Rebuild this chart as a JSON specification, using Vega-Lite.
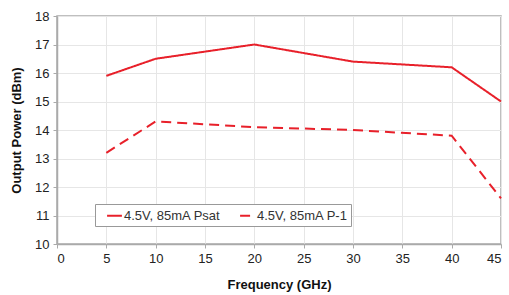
{
  "$schema": "https://vega.github.io/schema/vega-lite/v6.json",
  "autosize": {"type": "none"},
  "width": 444,
  "height": 228,
  "padding": {"left": 57, "top": 16, "right": 8, "bottom": 51},
  "background": "white",
  "data": {"values": [
    {"freq": 5, "power": 15.9, "series": "4.5V, 85mA Psat"},
    {"freq": 10, "power": 16.5, "series": "4.5V, 85mA Psat"},
    {"freq": 20, "power": 17.0, "series": "4.5V, 85mA Psat"},
    {"freq": 30, "power": 16.4, "series": "4.5V, 85mA Psat"},
    {"freq": 40, "power": 16.2, "series": "4.5V, 85mA Psat"},
    {"freq": 45, "power": 15.0, "series": "4.5V, 85mA Psat"},
    {"freq": 5, "power": 13.2, "series": "4.5V, 85mA P-1"},
    {"freq": 10, "power": 14.3, "series": "4.5V, 85mA P-1"},
    {"freq": 20, "power": 14.1, "series": "4.5V, 85mA P-1"},
    {"freq": 30, "power": 14.0, "series": "4.5V, 85mA P-1"},
    {"freq": 40, "power": 13.8, "series": "4.5V, 85mA P-1"},
    {"freq": 45, "power": 11.6, "series": "4.5V, 85mA P-1"}
  ]},
  "mark": {"type": "line", "color": "#e8202a", "strokeWidth": 2},
  "encoding": {
    "x": {"field": "freq", "type": "quantitative", "scale": {"domain": [0, 45], "nice": false},
      "axis": {"title": "Frequency (GHz)", "values": [0,5,10,15,20,25,30,35,40,45], "titlePadding": 13}},
    "y": {"field": "power", "type": "quantitative", "scale": {"domain": [10, 18], "nice": false, "zero": false},
      "axis": {"title": "Output Power (dBm)", "values": [10,11,12,13,14,15,16,17,18], "titlePadding": 11}},
    "strokeDash": {"field": "series", "type": "nominal",
      "scale": {"domain": ["4.5V, 85mA Psat", "4.5V, 85mA P-1"], "range": [[1, 0], [10, 6]]},
      "legend": {"title": null, "orient": "none", "legendX": 38, "legendY": 188, "direction": "horizontal",
        "symbolType": "stroke", "symbolStrokeColor": "#e8202a", "symbolStrokeWidth": 2, "symbolSize": 220,
        "labelFontSize": 13, "labelColor": "#333", "labelFont": "Liberation Sans", "labelOffset": 1,
        "fillColor": "white", "strokeColor": "#999", "padding": 3, "columnPadding": 10, "symbolOffset": 8}}
  },
  "config": {
    "font": "Liberation Sans",
    "view": {"stroke": "#aaa", "strokeWidth": 1.5},
    "axis": {"labelFontSize": 13, "labelColor": "#222", "titleFontSize": 13, "titleFontWeight": "bold", "titleColor": "#111",
      "gridColor": "#e6e6e6", "domainColor": "#aaa", "domainWidth": 1.5, "tickColor": "#aaa", "tickSize": 4, "labelPadding": 4}
  }
}
